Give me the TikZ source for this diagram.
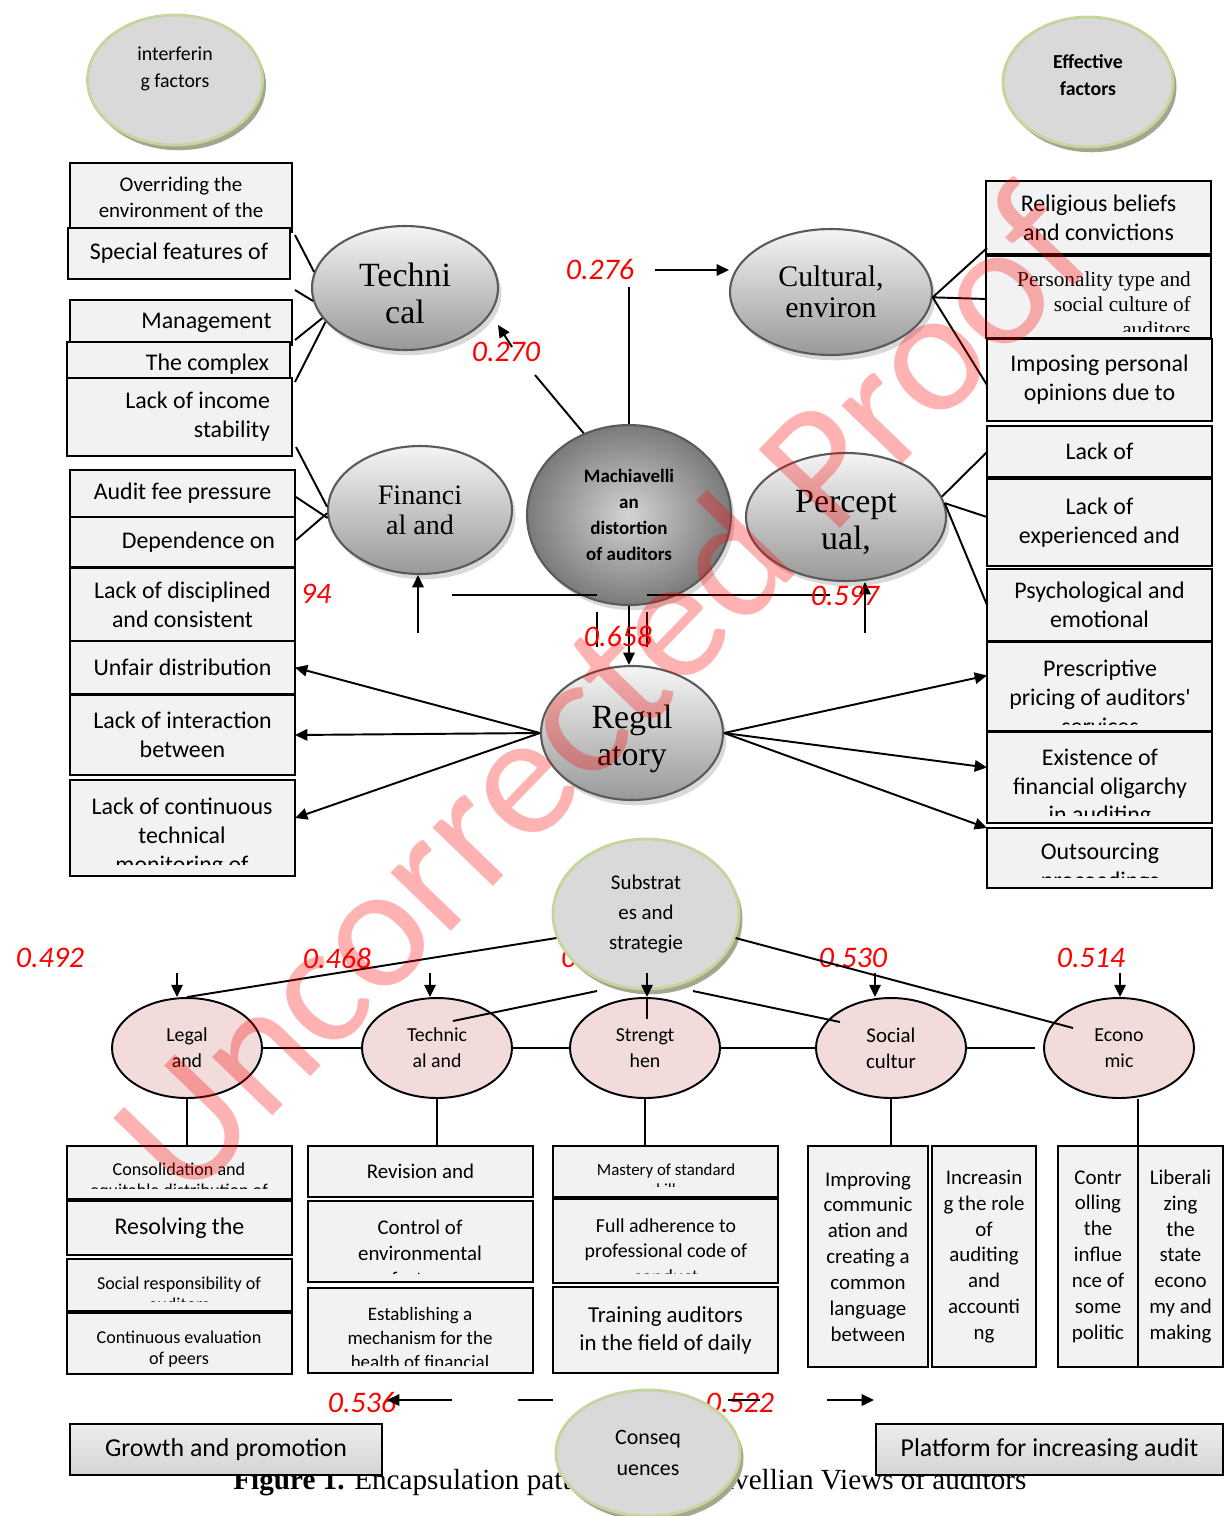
\documentclass[tikz,border=0pt]{standalone}
\usepackage{fontspec}
\setmainfont{Liberation Serif}
\newfontfamily\calib{Carlito}
\usetikzlibrary{arrows.meta,shapes.geometric,shadows,calc}
\definecolor{boxFill}{HTML}{F2F2F2}
\definecolor{ovalFill}{HTML}{D9D9D9}
\definecolor{ovalEdge}{HTML}{C3D69B}
\definecolor{ovalShade}{HTML}{A4A68E}
\definecolor{pinkFill}{HTML}{F2DCDB}
\definecolor{ballEdge}{HTML}{5A5A5A}
\definecolor{valRed}{HTML}{FF0000}
\tikzset{
  sz24/.style={font=\calib\fontsize{13.6}{16.4}\selectfont},
  sz23/.style={font=\calib\fontsize{13}{15.9}\selectfont},
  sz21/.style={font=\calib\fontsize{11.9}{14.7}\selectfont},
  sz20/.style={font=\calib\fontsize{11.3}{14.7}\selectfont},
  sz19/.style={font=\calib\fontsize{10.8}{13.6}\selectfont},
  sz18/.style={font=\calib\fontsize{10.3}{12}\selectfont},
  sz17/.style={font=\calib\fontsize{9.6}{11.3}\selectfont},
  sz26/.style={font=\calib\fontsize{14.7}{17}\selectfont},
  boxat/.style n args={4}{at={({(#1+#3)/2},{(#2+#4)/2})},
                          minimum width={(#3-#1)*0.02cm}, minimum height={(#4-#2)*0.02cm}},
  factbox/.style={draw, fill=boxFill, line width=1.1pt, inner sep=0pt, outer sep=0pt,
                  align=center, sz24},
  facttxt/.style={inner sep=0pt, align=center, sz24},
  rightbox/.style={factbox, text width=#1, align=flush right},
  growbox/.style={factbox, top color=black!7, bottom color=black!17, sz26},
  ballnode/.style={ellipse, draw=ballEdge, line width=1.2pt, inner sep=0pt,
                   top color=black!4, bottom color=black!40,
                   drop shadow={shadow xshift=2pt, shadow yshift=-3pt, opacity=0.3}},
  balltxt/.style={align=center, inner sep=0pt, font=\fontsize{19.3}{21}\selectfont},
  headoval/.style={ellipse, fill=ovalFill, draw=ovalEdge, line width=1.6pt, inner sep=0pt,
                   align=center, sz20,
                   drop shadow={shadow xshift=2pt, shadow yshift=-3pt, fill=ovalShade, opacity=1}},
  ovaltxt/.style={align=center, inner sep=0pt, font=\calib\fontsize{11.3}{15.3}\selectfont},
  pinknode/.style={ellipse, draw, line width=1.1pt, fill=pinkFill, inner sep=0pt,
                   minimum width=3cm, minimum height=2cm, align=center, sz20},
  valtxt/.style={text=valRed, inner sep=0pt, font=\calib\itshape\fontsize{17}{20}\selectfont},
  stdline/.style={line width=1.1pt},
  stdarrow/.style={-{Triangle[length=7pt,width=6.5pt]}, line width=1.1pt},
}
\begin{document}
\begin{tikzpicture}[x=0.02cm, y=-0.02cm]
\useasboundingbox (0,0) rectangle (1225,1516);

%% Caption and values lying underneath
\node[anchor=base west, inner sep=0pt, font=\fontsize{16.6}{20}\selectfont] (caption) at (233,1489)
  {\textbf{Figure 1.} Encapsulation pattern of Machiavellian Views of auditors};
\node[valtxt] (v94) at (316,594) {94};
\node[valtxt] (v5x) at (580,958) {0.5};
\node[valtxt] (v522) at (740,1403) {0.522};
\coordinate (k1) at (728,1400);
\coordinate (k2) at (760,1400);
\draw[stdline] (k1) -- (k2);

%% Heading ovals
\node[headoval, minimum width=3.5cm, minimum height=2.6cm,
      label={[ovaltxt, yshift=6.5pt]center:{interferin\\g factors}}] (interf) at (175,80) {};
\node[headoval, minimum width=3.4cm, minimum height=2.6cm,
      label={[ovaltxt, yshift=4pt, font=\calib\bfseries\fontsize{11.3}{15.3}\selectfont]center:{Effective\\factors}}] (effect) at (1088,82) {};

%% Left factor boxes
\node[factbox, sz21, boxat={70}{163}{292}{232}] (b1) {Overriding the\\environment of the};
\node[factbox, boxat={68}{228}{290}{279}] (b2) {Special features of};
\node[rightbox=3.62cm, boxat={70}{300}{292}{345}] (b3) {Management};
\node[rightbox=3.62cm, boxat={67}{342}{290}{381}] (b4) {\\[-4pt]The complex};
\node[rightbox=3.62cm, boxat={67}{378}{292}{456}] (b5) {Lack of income\\stability};
\node[factbox, boxat={70}{470}{295}{517}] (b6) {Audit fee pressure};
\node[rightbox=3.7cm, boxat={70}{517}{295}{567}] (b7) {Dependence on};
\node[factbox, boxat={70}{568}{295}{641}] (b8) {Lack of disciplined\\and consistent};
\node[factbox, boxat={70}{641}{295}{694}] (b9) {Unfair distribution};
\node[factbox, boxat={70}{695}{295}{775}] (b10) {Lack of interaction\\between};
\node[factbox, boxat={70}{780}{295}{876}] (b11) {};
\begin{scope}
  \clip (70,780) rectangle (295,864);
  \node[facttxt] (b11t) at (182,837) {Lack of continuous\\technical\\monitoring of};
\end{scope}

%% Right factor boxes
\node[factbox, boxat={986}{181}{1211}{254}] (r1) {Religious beliefs\\and convictions};
\node[factbox, boxat={986}{256}{1211}{338}] (r2) {};
\begin{scope}
  \clip (986,256) rectangle (1211,331);
  \node[inner sep=0pt, align=right, font=\fontsize{12.1}{14.2}\selectfont] (r2t) at (1104,304)
    {Personality type and\\social culture of\\auditors};
\end{scope}
\node[factbox, boxat={987}{339}{1212}{421}] (r3) {Imposing personal\\opinions due to};
\node[factbox, boxat={987}{426}{1212}{477}] (r4) {Lack of};
\node[factbox, boxat={987}{479}{1212}{566}] (r5) {Lack of\\experienced and};
\node[factbox, boxat={987}{569}{1212}{641}] (r6) {Psychological and\\emotional};
\node[factbox, boxat={987}{642}{1212}{731}] (r7) {};
\begin{scope}
  \clip (987,642) rectangle (1212,724);
  \node[facttxt] (r7t) at (1100,697) {Prescriptive\\pricing of auditors'\\services};
\end{scope}
\node[factbox, boxat={987}{732}{1212}{823}] (r8) {};
\begin{scope}
  \clip (987,732) rectangle (1212,815);
  \node[facttxt] (r8t) at (1100,788) {Existence of\\financial oligarchy\\in auditing};
\end{scope}
\node[factbox, boxat={987}{828}{1212}{888}] (r9) {};
\begin{scope}
  \clip (987,828) rectangle (1212,877);
  \node[facttxt] (r9t) at (1100,868) {Outsourcing\\proceedings};
\end{scope}

%% Factor ellipses
\node[ballnode, minimum width=3.72cm, minimum height=2.48cm,
      label={[balltxt, yshift=-3pt]center:{Techni\\cal}}] (tech) at (405,288) {};
\node[ballnode, minimum width=4.04cm, minimum height=2.52cm,
      label={[balltxt, font=\fontsize{17}{17.6}\selectfont]center:{Cultural,\\environ}}] (cult) at (831,292) {};
\node[ballnode, minimum width=3.68cm, minimum height=2.56cm,
      label={[balltxt, font=\fontsize{16}{17}\selectfont]center:{Financi\\al and}}] (fin) at (420,510) {};
\node[ballnode, minimum width=4.08cm, minimum height=3.6cm, shading=radial, inner color=black!17, outer color=black!52,
      label={[balltxt, font=\calib\bfseries\fontsize{10.8}{14.7}\selectfont]center:{Machiavelli\\an\\distortion\\of auditors}}] (mach) at (629,515) {};
\node[ballnode, minimum width=4cm, minimum height=2.56cm,
      label={[balltxt, yshift=-3.3pt]center:{Percept\\ual,}}] (perc) at (846,517) {};
\node[ballnode, minimum width=3.64cm, minimum height=2.68cm,
      label={[balltxt, yshift=-3.3pt]center:{Regul\\atory}}] (reg) at (632,733) {};

%% Technical and financial links
\coordinate (t1) at (295,235);
\coordinate (t2) at (295,290);
\coordinate (t3) at (295,340);
\coordinate (t4) at (295,382);
\draw[stdline] (t1) -- (tech.170);
\draw[stdline] (t2) -- (tech.188);
\draw[stdline] (t3) -- (tech.200);
\draw[stdline] (t4) -- (tech.203);
\coordinate (f1) at (296,447);
\coordinate (f2) at (296,497);
\coordinate (f3) at (296,540);
\draw[stdline] (f1) -- (fin.178);
\draw[stdline] (f2) -- (fin.185);
\draw[stdline] (f3) -- (fin.182);

%% Cultural and perceptual links
\coordinate (c1) at (987,248);
\coordinate (c2) at (987,299);
\coordinate (c3) at (987,385);
\draw[stdline] (cult.-3) -- (c1);
\draw[stdline] (cult.-3) -- (c2);
\draw[stdline] (cult.-3) -- (c3);
\coordinate (p1) at (987,452);
\coordinate (p2) at (987,517);
\coordinate (p3) at (987,605);
\draw[stdline] (perc.12) -- (p1);
\draw[stdline] (perc.8) -- (p2);
\draw[stdline] (perc.8) -- (p3);

%% Regulatory arrows
\draw[stdarrow] (reg.west) -- (b9.east);
\draw[stdarrow] (reg.west) -- (b10.east);
\draw[stdarrow] (reg.west) -- ($(b11.east)+(0,-10)$);
\draw[stdarrow] (reg.east) -- ($(r7.west)+(0,-11)$);
\draw[stdarrow] (reg.east) -- ($(r8.west)+(0,-10)$);
\draw[stdarrow] (reg.east) -- (r9.north west);

%% Machiavellian links
\coordinate (m1) at (629,287);
\coordinate (m2) at (655,270);
\coordinate (m3) at (535,375);
\coordinate (m4) at (512,347);
\coordinate (m5) at (498,325);
\draw[stdline] (mach.north) -- (m1);
\draw[stdarrow] (m2) -- (m2 -| cult.west);
\draw[stdline] (mach.119) -- (m3);
\draw[stdarrow] (m4) -- (m5);
\coordinate (m6) at (452,595);
\coordinate (m7) at (597,595);
\coordinate (m8) at (647,595);
\coordinate (m9) at (830,595);
\draw[stdline] (m6) -- (m7);
\draw[stdline] (m8) -- (m9);
\coordinate (m10) at (597,612);
\coordinate (m11) at (597,647);
\coordinate (m12) at (647,612);
\coordinate (m13) at (647,647);
\draw[stdline] (m10) -- (m11);
\draw[stdline] (m12) -- (m13);
\draw[stdarrow] (mach.south) -- (mach.south |- reg.north);
\coordinate (m14) at (418,633);
\coordinate (m15) at (865,633);
\draw[stdarrow] (m14) -- (m14 |- fin.south);
\draw[stdarrow] (m15) -- (m15 |- perc.south);

%% Values
\node[valtxt] (v276) at (600,270) {0.276};
\node[valtxt] (v270) at (506,352) {0.270};
\node[valtxt] (v658) at (618,636) {0.658};
\node[valtxt] (v597) at (845,596) {0.597};
\node[valtxt] (v492) at (50,958) {0.492};
\node[valtxt] (v468) at (337,958) {0.468};
\node[valtxt] (v530) at (853,958) {0.530};
\node[valtxt] (v514) at (1091,958) {0.514};
\node[valtxt] (v536) at (362,1403) {0.536};

%% Strategy ellipses
\node[headoval, minimum width=3.72cm, minimum height=3cm, font=\calib\fontsize{11.9}{17}\selectfont] (sub) at (646,914) {Substrat\\es and\\strategie};
\node[pinknode] (legal) at (187,1048) {Legal\\and};
\node[pinknode] (tech2) at (437,1048) {Technic\\al and};
\node[pinknode] (stren) at (645,1048) {Strengt\\hen};
\node[pinknode, sz21] (soc) at (891,1048) {Social\\cultur};
\node[pinknode] (econ) at (1119,1048) {Econo\\mic};

\draw[stdline] (sub.195) -- (legal.north);
\coordinate (s1) at (597,991);
\coordinate (s2) at (453,1021);
\coordinate (s3) at (693,991);
\coordinate (s4) at (840,1022);
\coordinate (s5) at (1073,1028);
\draw[stdline] (s1) -- (s2);
\draw[stdline] (s3) -- (s4);
\draw[stdline] (sub.-15) -- (s5);
\coordinate (d1) at (177,973);
\coordinate (d2) at (430,973);
\coordinate (d3) at (647,973);
\coordinate (d4) at (875,973);
\coordinate (d5) at (1120,973);
\draw[stdarrow] (d1) -- (d1 |- legal.north);
\draw[stdarrow] (d2) -- (d2 |- tech2.north);
\draw[stdarrow] (d3) -- (d3 |- stren.north);
\draw[stdline] (d3 |- stren.north) -- ++(0,22);
\draw[stdarrow] (d4) -- (d4 |- soc.north);
\draw[stdarrow] (d5) -- (d5 |- econ.north);
\coordinate (e0) at (1035,1048);
\draw[stdline] (legal) -- (tech2);
\draw[stdline] (tech2) -- (stren);
\draw[stdline] (stren) -- (soc);
\draw[stdline] (soc.east) -- (e0);

%% Strategy boxes
\node[factbox, boxat={67}{1146}{292}{1199}] (c1a) {};
\begin{scope}
  \clip (67,1146) rectangle (292,1188);
  \node[facttxt, sz18] (c1at) at (179,1181) {Consolidation and\\equitable distribution of};
\end{scope}
\node[factbox, boxat={67}{1201}{292}{1255}] (c1b) {Resolving the};
\node[factbox, boxat={67}{1259}{292}{1311}] (c1c) {};
\begin{scope}
  \clip (67,1259) rectangle (292,1301);
  \node[facttxt, sz18] (c1ct) at (179,1294) {Social responsibility of\\auditors};
\end{scope}
\node[factbox, boxat={67}{1313}{292}{1374}] (c1d) {};
\begin{scope}
  \clip (67,1313) rectangle (292,1367);
  \node[facttxt, sz18] (c1dt) at (179,1349) {Continuous evaluation\\of peers};
\end{scope}
\node[factbox, sz21, boxat={308}{1146}{533}{1197}] (c2a) {Revision and};
\node[factbox, boxat={308}{1201}{533}{1282}] (c2b) {};
\begin{scope}
  \clip (308,1201) rectangle (533,1273);
  \node[facttxt, sz21] (c2bt) at (420,1253) {Control of\\environmental\\factors};
\end{scope}
\node[factbox, boxat={308}{1288}{533}{1373}] (c2c) {};
\begin{scope}
  \clip (308,1288) rectangle (533,1365);
  \node[facttxt, sz19] (c2ct) at (420,1338) {Establishing a\\mechanism for the\\health of financial};
\end{scope}
\node[factbox, boxat={553}{1146}{778}{1197}] (c3a) {};
\begin{scope}
  \clip (553,1146) rectangle (778,1186);
  \node[facttxt, sz17] (c3at) at (666,1180) {Mastery of standard\\skills};
\end{scope}
\node[factbox, boxat={553}{1199}{778}{1283}] (c3b) {};
\begin{scope}
  \clip (553,1199) rectangle (778,1273);
  \node[facttxt, sz20] (c3bt) at (666,1251) {Full adherence to\\professional code of\\conduct};
\end{scope}
\node[factbox, sz23, boxat={553}{1287}{778}{1373}] (c3c) {Training auditors\\in the field of daily};
\node[factbox, sz21, boxat={808}{1146}{928}{1367}] (c4a) {Improving\\communic\\ation and\\creating a\\common\\language\\between};
\node[factbox, sz21, boxat={932}{1146}{1036}{1367}] (c4b) {Increasin\\g the role\\of\\auditing\\and\\accounti\\ng};
\node[factbox, sz21, boxat={1058}{1146}{1138}{1367}] (c5a) {Contr\\olling\\the\\influe\\nce of\\some\\politic};
\node[factbox, sz21, boxat={1138}{1146}{1223}{1367}] (c5b) {Liberali\\zing\\the\\state\\econo\\my and\\making};

\draw[stdline] (legal.south) -- (legal.south |- c1a.north);
\draw[stdline] (tech2.south) -- (tech2.south |- c2a.north);
\draw[stdline] (stren.south) -- (stren.south |- c3a.north);
\draw[stdline] (soc.south) -- (soc.south |- c4a.north);
\draw[stdline] (c5a.north east |- econ.south) -- (c5a.south east);

%% Consequences
\coordinate (h1) at (452,1400);
\coordinate (h2) at (387,1400);
\coordinate (h3) at (518,1400);
\coordinate (h4) at (553,1400);
\coordinate (h5) at (827,1400);
\coordinate (h6) at (874,1400);
\draw[stdarrow] (h1) -- (h2);
\draw[stdline] (h3) -- (h4);
\draw[stdarrow] (h5) -- (h6);
\node[growbox, boxat={70}{1424}{382}{1475}] (g1) {Growth and promotion};
\node[growbox, boxat={876}{1424}{1223}{1475}] (g2) {Platform for increasing audit};
\node[headoval, minimum width=3.68cm, minimum height=2.52cm, font=\calib\fontsize{12.5}{17.6}\selectfont] (cons) at (648,1453) {Conseq\\uences};

%% Watermark
\node[rotate=46, text=red, opacity=0.3, inner sep=0pt, font=\calib\fontsize{100}{100}\selectfont] (mark) at (600,690) {Uncorrected Proof};
\end{tikzpicture}
\end{document}
